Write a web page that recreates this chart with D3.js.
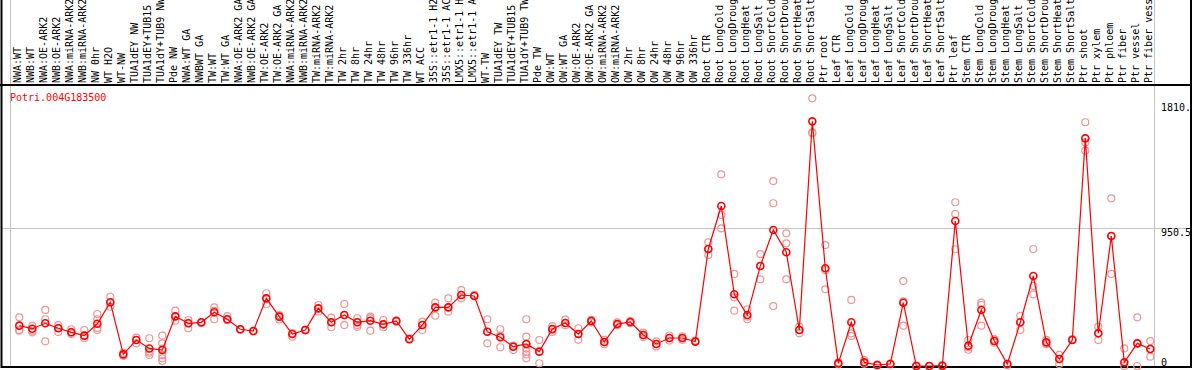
<!DOCTYPE html>
<html>
<head>
<meta charset="utf-8">
<script src="https://cdn.jsdelivr.net/npm/d3@7"></script>
<style>
  body { margin: 0; background: #fff; }
  text { font-family: "DejaVu Sans Mono", monospace; font-size: 10px; }
</style>
</head>
<body>
<div id="chart"></div>
<script>
/** DATA */
const gene = "Potri.004G183500";

const samples = [
  "NWA:WT", "NWB:WT", "NWA:OE-ARK2", "NWB:OE-ARK2", "NWA:miRNA-ARK2", "NWB:miRNA-ARK2",
  "NW 0hr", "WT H2O", "WT-NW", "TUA1dEY NW", "TUA1dEY+TUB15", "TUA1dY+TUB9 NW", "Pde NW",
  "NWA:WT GA", "NWBWT GA", "TW:WT", "TW:WT GA", "NWA:OE-ARK2 GA", "NWB:OE-ARK2 GA",
  "TW:OE-ARK2", "TW:OE-ARK2 GA", "NWA:miRNA-ARK2 GA", "NWB:miRNA-ARK2 GA", "TW:miRNA-ARK2",
  "TW:miRNA-ARK2", "TW 2hr", "TW 8hr", "TW 24hr", "TW 48hr", "TW 96hr", "TW 336hr", "WT ACC",
  "35S::etr1-1 H2O", "35S::etr1-1 ACC", "LMX5::etr1-1 H2O", "LMX5::etr1-1 ACC", "WT-TW",
  "TUA1dEY TW", "TUA1dEY+TUB15", "TUA1dY+TUB9 TW", "Pde TW",
  "OW:WT", "OW:WT GA", "OW:OE-ARK2", "OW:OE-ARK2 GA", "OW:miRNA-ARK2", "OW:miRNA-ARK2",
  "OW 2hr", "OW 8hr", "OW 24hr", "OW 48hr", "OW 96hr", "OW 336hr",
  "Root CTR", "Root LongCold", "Root LongDrought", "Root LongHeat", "Root LongSalt",
  "Root ShortCold", "Root ShortDrought", "Root ShortHeat", "Root ShortSalt", "Ptr root",
  "Leaf CTR", "Leaf LongCold", "Leaf LongDrought", "Leaf LongHeat", "Leaf LongSalt",
  "Leaf ShortCold", "Leaf ShortDrought", "Leaf ShortHeat", "Leaf ShortSalt", "Ptr leaf",
  "Stem CTR", "Stem LongCold", "Stem LongDrought", "Stem LongHeat", "Stem LongSalt",
  "Stem ShortCold", "Stem ShortDrought", "Stem ShortHeat", "Stem ShortSalt", "Ptr shoot", "Ptr xylem",
  "Ptr phloem", "Ptr fiber", "Ptr vessel", "Ptr fiber vessel"
];

// number of samples in each block between the grey separators
const groupSizes = [13, 28, 12, 10, 10, 11, 1, 1, 1, 1];

const means = [
  278, 257, 294, 260, 232, 209, 291, 439, 80, 179, 121, 110, 342,
  294, 301, 370, 322, 253, 241, 466, 340, 220, 248, 397, 301, 351, 301, 312, 287, 310, 184, 282,
  404, 404, 489, 482, 236, 198, 133, 152, 99,
  255, 296, 220, 310, 165, 289, 303, 214, 152, 193, 193, 168,
  806, 1102, 494, 351, 689, 937, 783, 248, 1685, 673,
  18, 301, 25, 7, 14, 436, 0, 0, 2, 999,
  140, 386, 172, 14, 301, 620, 163, 48, 179, 1568, 225,
  895, 25, 156, 117
];

const replicates = [
  [335, 248, 243], [276, 243, 232], [386, 322, 170], [282, 260, 235], [253, 232, 220],
  [248, 209, 191], [358, 322, 262, 248], [477, 439, 408], [90, 80, 70], [195, 179, 156],
  [191, 100, 92, 76], [209, 156, 120, 76, 53, 34], [381, 342, 312],
  [317, 294, 260], [301, 295], [404, 380, 322], [344, 322, 315], [253, 250], [241, 238],
  [501, 466, 427], [350, 340, 320], [225, 202], [250, 245], [420, 397, 374], [333, 301, 267],
  [427, 351, 282], [329, 301, 282, 270], [340, 330, 243], [317, 287, 267], [315, 305],
  [190, 184], [305, 282, 248], [436, 404, 346], [466, 404, 374], [523, 489, 466], [490, 482],
  [322, 236, 156], [253, 210, 129], [140, 133, 110], [322, 202, 152, 120, 100, 80, 53],
  [179, 99, 19],
  [275, 250, 235], [320, 296, 280], [260, 220, 180], [318, 310, 300], [180, 165, 150],
  [300, 289, 280], [310, 303, 295], [230, 214, 200], [170, 152, 135], [210, 193, 175],
  [205, 193, 180], [175, 168],
  [852, 806, 765], [1320, 1040, 948], [634, 473, 381], [391, 340, 322], [771, 689, 597],
  [1274, 1121, 413], [914, 845, 597], [271, 248, 225], [1844, 1610, 1603], [833, 660, 528],
  [25, 18, 12], [455, 225, 207], [41, 20, 16], [10, 7, 4], [16, 14, 12], [585, 445, 278],
  [2, 0, 0], [0, 0, 0], [4, 2, 0], [1128, 1047, 804],
  [179, 130, 112], [436, 420, 278], [185, 172, 160], [14, 5], [346, 300, 248],
  [806, 551, 494], [180, 163, 150], [76, 48, 14], [185, 179], [1679, 1540, 1483],
  [271, 225, 179],
  [1155, 895, 634], [121, 0], [335, 156, 0], [172, 117, 64]
];

const yMax = 1901;
const tickValues = [0, 950.5, 1810];
const tickLabels = ["0", "950.5", "1810."];

/** CONSTANTS */
const width = 1194;
const height = 370;
const headerBottom = 85;
const plotBottom = 368;

const xScale = d3.scaleBand()
  .domain(d3.range(samples.length))
  .range([11, 11 + samples.length * 13]);

const yScale = d3.scaleLinear()
  .domain([0, yMax])
  .range([366, 90]);

const px = i => xScale(i) + 8.3;

const svg = d3.select("#chart")
  .append("svg")
  .attr("width", width)
  .attr("height", height);

// grey separators between sample blocks
const bounds = [0].concat(d3.cumsum(groupSizes));
svg.selectAll("line.sep")
  .data(bounds)
  .join("line")
  .attr("class", "sep")
  .attr("x1", d => (d < samples.length ? xScale(d) : xScale.range()[1]) - 0.5)
  .attr("x2", d => (d < samples.length ? xScale(d) : xScale.range()[1]) - 0.5)
  .attr("y1", 0)
  .attr("y2", plotBottom)
  .attr("stroke", "#c4c4c4")
  .attr("stroke-width", 1);

// mid gridline
svg.append("line")
  .attr("x1", 2)
  .attr("x2", 1191)
  .attr("y1", Math.round(yScale(tickValues[1])) + 0.5)
  .attr("y2", Math.round(yScale(tickValues[1])) + 0.5)
  .attr("stroke", "#c4c4c4");

// sample labels, rotated (long ones run off the top, as in the original)
svg.selectAll("text.sample")
  .data(samples)
  .join("text")
  .attr("class", "sample")
  .attr("transform", (d, i) => `translate(${xScale(i) + 10.2},83) rotate(-90)`)
  .attr("fill", "#000")
  .text(d => d);

// frame
svg.append("line").attr("x1", 0).attr("x2", 1192).attr("y1", headerBottom).attr("y2", headerBottom)
  .attr("stroke", "#000").attr("stroke-width", 2);
svg.append("rect")
  .attr("x", 1.5).attr("y", -2)
  .attr("width", 1189.5).attr("height", plotBottom + 1)
  .attr("fill", "none").attr("stroke", "#000").attr("stroke-width", 2);

// title
svg.append("text")
  .attr("x", 10)
  .attr("y", 101)
  .attr("fill", "#ff0000")
  .text(gene);

// value labels
svg.selectAll("text.tick")
  .data(tickValues)
  .join("text")
  .attr("class", "tick")
  .attr("x", 1161)
  .attr("y", (d, i) => d === 0 ? yScale(d) : yScale(d) + 8)
  .attr("fill", "#000")
  .text((d, i) => tickLabels[i]);

// replicate points
const reps = replicates.flatMap((vals, i) => vals.map(v => ({ i, v })));
svg.selectAll("circle.rep")
  .data(reps)
  .join("circle")
  .attr("class", "rep")
  .attr("cx", d => px(d.i))
  .attr("cy", d => yScale(d.v))
  .attr("r", 3.5)
  .attr("fill", "none")
  .attr("stroke", "#f09494")
  .attr("stroke-width", 1.2);

// mean line
const line = d3.line()
  .x((d, i) => px(i))
  .y(d => yScale(d));

svg.append("path")
  .datum(means)
  .attr("d", line)
  .attr("fill", "none")
  .attr("stroke", "#ff0000")
  .attr("stroke-width", 1.2);

svg.selectAll("circle.mean")
  .data(means)
  .join("circle")
  .attr("class", "mean")
  .attr("cx", (d, i) => px(i))
  .attr("cy", d => yScale(d))
  .attr("r", 3.5)
  .attr("fill", "none")
  .attr("stroke", "#ff0000")
  .attr("stroke-width", 1.6);
</script>
</body>
</html>
